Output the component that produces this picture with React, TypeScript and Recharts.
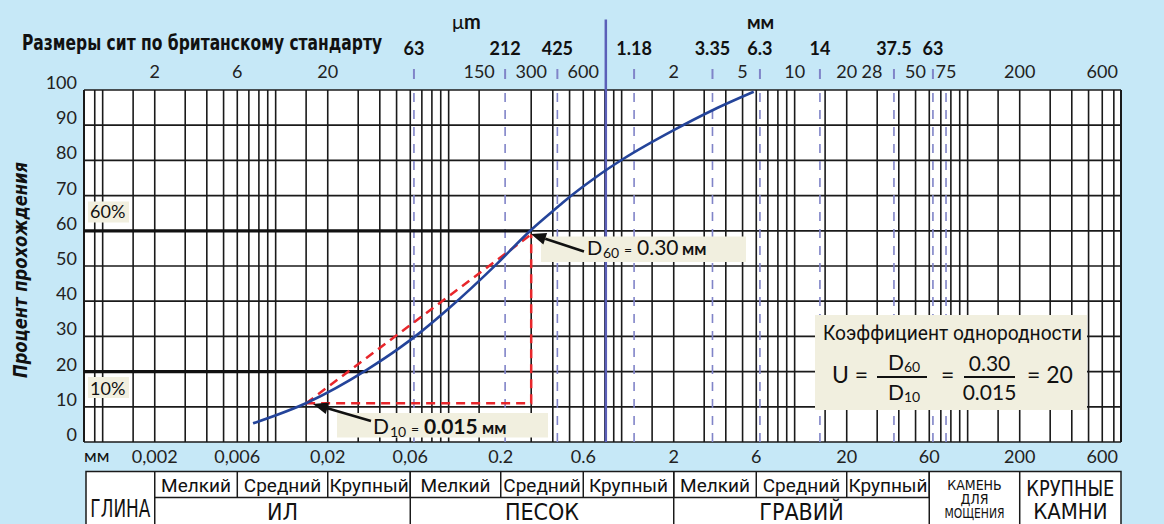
import React from 'react';
import { LineChart, Line, XAxis, YAxis, CartesianGrid, ReferenceLine } from 'recharts';

// grading curve: sieve size (mm) vs percent passing
const sizeMm = [0.0074, 0.0154, 0.0336, 0.0523, 0.068, 0.1, 0.19, 0.29, 0.44, 0.5, 0.69, 0.81, 1.02, 2.0, 3.4, 5.8];
const passing = [5.3, 11.3, 20.5, 26.8, 31.0, 37.9, 50.6, 59.6, 67.3, 69.6, 74.8, 77.2, 80.4, 88.6, 94.4, 99.5];

const d10 = 0.015;
const d60 = 0.3;
const d10Level = 11;
const d60Level = 59;

// BS sieves (bold row on top + dashed lines)
const sieveMm = [0.063, 0.212, 0.425, 1.18, 3.35, 6.3, 14, 37.5, 63];
const sieveLinesMm = [0.063, 0.212, 0.425, 1.18, 3.35, 6.3, 14, 37.5, 63, 75];
const topTicks = [0.002, 0.006, 0.02, 0.15, 0.3, 0.6, 2, 5, 10, 20, 28, 50, 75, 200, 600];
const bottomTicks = [0.002, 0.006, 0.02, 0.06, 0.2, 0.6, 2, 6, 20, 60, 200, 600];
const bottomLabels = ['0,002', '0,006', '0,02', '0,06', '0.2', '0.6', '2', '6', '20', '60', '200', '600'];
const yTicks = [0, 10, 20, 30, 40, 50, 60, 70, 80, 90, 100];
const gridX = [
  0.0009, 0.001, 0.0015, 0.002, 0.003, 0.004, 0.005, 0.006, 0.007, 0.008, 0.009,
  0.01, 0.015, 0.02, 0.03, 0.04, 0.05, 0.06, 0.07, 0.08, 0.09,
  0.1, 0.15, 0.3, 0.4, 0.5, 0.6, 0.7, 0.8, 0.9,
  1, 1.5, 2, 3, 4, 5, 6, 7, 8, 9,
  10, 15, 20, 30, 40, 50, 60, 70, 80, 90,
  100, 150, 200, 300, 400, 500, 600, 700,
];
const umMmDivider = 0.81;
const xMin = 0.00078;
const xMax = 770;

// soil classification table
const mainGroups = [
  { name: 'ИЛ', from: 0.002, to: 0.06 },
  { name: 'ПЕСОК', from: 0.06, to: 2 },
  { name: 'ГРАВИЙ', from: 2, to: 60 },
];
const subBounds = [0.002, 0.006, 0.02, 0.06, 0.2, 0.6, 2, 6, 20, 60];
const subNames = ['Мелкий', 'Средний', 'Крупный'];

const W = 1164;
const H = 524;
const PLOT_L = 84;
const PLOT_R = 1121;
const BG = '#c6e8f7';
const NOTE = '#f1efdf';
const INK = '#1a1a1a';
const GILL = "Lato, 'Open Sans', sans-serif";
const NARROW = "'Liberation Sans Narrow', 'DejaVu Sans Condensed', sans-serif";
const ROBO = "Roboto, 'Liberation Sans', sans-serif";

const sx = (v: number) => PLOT_L + ((PLOT_R - PLOT_L) * Math.log(v / xMin)) / Math.log(xMax / xMin);

const curve = sizeMm.map((x, i) => ({ x, y: passing[i] }));
const redL = [
  { x: d10, y: d10Level },
  { x: d60, y: d10Level },
  { x: d60, y: d60Level },
];
const redDiag = [
  { x: d10, y: d10Level },
  { x: d60, y: d60Level },
];

const fmtTop = (v: number) => (v < 1 ? String(Math.round(v * 1000)) : String(v));

const TopTick = (props: any) => {
  const { x, payload } = props;
  const v = payload.value;
  if (sieveMm.includes(v)) {
    return (
      <g>
        <text x={x} y={55} textAnchor="middle" fontFamily={GILL} fontWeight={700} fontSize={18} fill="#111">
          {fmtTop(v)}
        </text>
        <line x1={x} x2={x} y1={69} y2={79} stroke="#8084c8" strokeWidth={2} />
      </g>
    );
  }
  return (
    <text x={x} y={78} textAnchor="middle" fontFamily={GILL} fontSize={18} fill="#222">
      {fmtTop(v)}
    </text>
  );
};

const BottomTick = (props: any) => {
  const { x, payload } = props;
  const i = bottomTicks.indexOf(payload.value);
  return (
    <text x={x} y={463} textAnchor="middle" fontFamily={GILL} fontSize={18} fill="#222">
      {bottomLabels[i]}
    </text>
  );
};

const LeftTick = (props: any) => (
  <text x={77} y={props.y - 1} textAnchor="end" fontFamily={GILL} fontSize={18} fill="#222">
    {props.payload.value}
  </text>
);

const RightTick = (props: any) => (
  <text x={1129} y={props.y - 1} textAnchor="start" fontFamily={GILL} fontSize={18} fill="#222">
    {props.payload.value}
  </text>
);

const Arrow = ({ x1, y1, x2, y2 }: { x1: number; y1: number; y2: number; x2: number }) => {
  const a = Math.atan2(y2 - y1, x2 - x1);
  const len = 15;
  const half = 6;
  const bx = x2 - len * Math.cos(a);
  const by = y2 - len * Math.sin(a);
  const px = -Math.sin(a) * half;
  const py = Math.cos(a) * half;
  return (
    <g>
      <line x1={x1} y1={y1} x2={bx} y2={by} stroke="#111" strokeWidth={2.5} />
      <polygon points={`${x2},${y2} ${bx + px},${by + py} ${bx - px},${by - py}`} fill="#111" />
    </g>
  );
};

const Table = () => {
  const top = 471.5;
  const mid = 497.5;
  const bottom = 540;
  const left = 86;
  const right = PLOT_R;
  const cells: React.ReactNode[] = [];
  for (let i = 0; i < subBounds.length - 1; i++) {
    const a = sx(subBounds[i]);
    const b = sx(subBounds[i + 1]);
    cells.push(<line key={`s${i}`} x1={b} x2={b} y1={top} y2={mid} stroke={INK} strokeWidth={1.5} />);
    cells.push(
      <text key={`t${i}`} x={(a + b) / 2} y={492} textAnchor="middle" fontFamily={ROBO} fontSize={19} fill="#111">
        {subNames[i % 3]}
      </text>
    );
  }
  mainGroups.forEach((g, i) => {
    const a = sx(g.from);
    const b = sx(g.to);
    cells.push(<line key={`g${i}`} x1={a} x2={a} y1={top} y2={bottom} stroke={INK} strokeWidth={1.5} />);
    cells.push(
      <text key={`gt${i}`} x={(a + b) / 2} y={520} textAnchor="middle" fontFamily={NARROW} fontSize={23} fill="#111">
        {g.name}
      </text>
    );
  });
  const stoneA = sx(60);
  const stoneB = sx(200);
  return (
    <g>
      <rect x={left} y={top} width={right - left} height={bottom - top} fill="#fff" stroke={INK} strokeWidth={1.5} />
      <line x1={sx(0.002)} x2={stoneA} y1={mid} y2={mid} stroke={INK} strokeWidth={1.5} />
      {cells}
      <line x1={stoneA} x2={stoneA} y1={top} y2={bottom} stroke={INK} strokeWidth={1.5} />
      <line x1={stoneB} x2={stoneB} y1={top} y2={bottom} stroke={INK} strokeWidth={1.5} />
      <text x={(left + sx(0.002)) / 2} y={517} textAnchor="middle" fontFamily={NARROW} fontSize={24} fill="#111" textLength={60} lengthAdjust="spacingAndGlyphs">
        ГЛИНА
      </text>
      <g fontFamily={NARROW} fontSize={14} fill="#111" textAnchor="middle">
        <text x={(stoneA + stoneB) / 2} y={490}>КАМЕНЬ</text>
        <text x={(stoneA + stoneB) / 2} y={504}>ДЛЯ</text>
        <text x={(stoneA + stoneB) / 2} y={518} textLength={60} lengthAdjust="spacingAndGlyphs">МОЩЕНИЯ</text>
      </g>
      <g fontFamily={NARROW} fontSize={22} fill="#111" textAnchor="middle">
        <text x={(stoneB + right) / 2} y={496} textLength={88} lengthAdjust="spacingAndGlyphs">КРУПНЫЕ</text>
        <text x={(stoneB + right) / 2} y={519}>КАМНИ</text>
      </g>
    </g>
  );
};

const App: React.FC = () => {
  return (
    <div style={{ position: 'absolute', left: 0, top: 0, width: W, height: H, background: BG, overflow: 'hidden' }}>
      <LineChart width={W} height={470} margin={{ top: 0, right: 0, bottom: 0, left: 0 }}>
        <CartesianGrid xAxisId="bottom" yAxisId="left" vertical={false} fill="#fff" stroke={INK} strokeWidth={1.7} />
        <XAxis
          xAxisId="top"
          orientation="top"
          dataKey="x"
          type="number"
          scale="log"
          domain={[xMin, xMax]}
          allowDataOverflow
          ticks={[...topTicks, ...sieveMm].sort((a, b) => a - b)}
          interval={0}
          height={90}
          axisLine={false}
          tickLine={false}
          tick={TopTick}
        />
        <XAxis
          xAxisId="bottom"
          orientation="bottom"
          dataKey="x"
          type="number"
          scale="log"
          domain={[xMin, xMax]}
          allowDataOverflow
          ticks={bottomTicks}
          interval={0}
          height={28}
          axisLine={false}
          tickLine={false}
          tick={BottomTick}
        />
        <YAxis yAxisId="left" orientation="left" type="number" domain={[0, 100]} ticks={yTicks} interval={0} width={84} axisLine={false} tickLine={false} tick={LeftTick} />
        <YAxis yAxisId="right" orientation="right" type="number" domain={[0, 100]} ticks={yTicks} interval={0} width={43} axisLine={false} tickLine={false} tick={RightTick} />

        {gridX.map((v) => (
          <ReferenceLine key={`gx${v}`} xAxisId="bottom" yAxisId="left" x={v} stroke={INK} strokeWidth={1.6} />
        ))}
        <ReferenceLine xAxisId="bottom" yAxisId="left" x={xMin} stroke={INK} strokeWidth={2} />
        <ReferenceLine xAxisId="bottom" yAxisId="left" x={xMax} stroke={INK} strokeWidth={2} />
        {sieveLinesMm.map((v) => (
          <ReferenceLine key={`sv${v}`} xAxisId="bottom" yAxisId="left" x={v} stroke="#8084c8" strokeWidth={1.6} strokeDasharray="9 8" />
        ))}
        <ReferenceLine
          xAxisId="bottom"
          yAxisId="left"
          segment={[{ x: xMin, y: 60 }, { x: d60, y: 60 }]}
          stroke="#111"
          strokeWidth={3.2}
        />
        <ReferenceLine
          xAxisId="bottom"
          yAxisId="left"
          segment={[{ x: xMin, y: 20 }, { x: 0.034, y: 20 }]}
          stroke="#111"
          strokeWidth={3.2}
        />
        <ReferenceLine
          xAxisId="bottom"
          yAxisId="left"
          segment={[{ x: umMmDivider, y: 0 }, { x: umMmDivider, y: 120 }]}
          ifOverflow="visible"
          stroke="#5b5fb8"
          strokeWidth={2.5}
        />

        <Line xAxisId="bottom" yAxisId="left" data={redL} dataKey="y" type="linear" stroke="#e8262b" strokeWidth={2.5} strokeDasharray="9 6" dot={false} isAnimationActive={false} />
        <Line xAxisId="bottom" yAxisId="left" data={redDiag} dataKey="y" type="linear" stroke="#e8262b" strokeWidth={2.5} strokeDasharray="9 6" dot={false} isAnimationActive={false} />
        <Line xAxisId="bottom" yAxisId="left" data={curve} dataKey="y" type="monotone" stroke="#24449a" strokeWidth={2.6} dot={false} isAnimationActive={false} />
      </LineChart>

      <svg width={W} height={H} style={{ position: 'absolute', left: 0, top: 0, pointerEvents: 'none' }}>
        <text x={22} y={50} fontFamily={NARROW} fontWeight={700} fontSize={22} fill="#111" textLength={360} lengthAdjust="spacingAndGlyphs">
          Размеры сит по британскому стандарту
        </text>
        <text x={452} y={29} fontFamily={GILL} fontSize={20} fill="#111">
          μ<tspan fontWeight={700}>m</tspan>
        </text>
        <text x={747} y={29} fontFamily={GILL} fontWeight={700} fontSize={19} fill="#111">мм</text>
        <text x={84} y={462} fontFamily={GILL} fontSize={18} fill="#111">мм</text>
        <text
          transform="translate(27,270) rotate(-90)"
          textAnchor="middle"
          fontFamily={NARROW}
          fontWeight={700}
          fontStyle="italic"
          fontSize={20}
          fill="#111"
          textLength={216}
          lengthAdjust="spacingAndGlyphs"
        >
          Процент прохождения
        </text>

        {/* level labels */}
        <rect x={88} y={201.5} width={41} height={21} fill={NOTE} />
        <text x={90} y={218} fontFamily={GILL} fontSize={18} fill="#111">60%</text>
        <rect x={88} y={377} width={41} height={21} fill={NOTE} />
        <text x={90} y={395} fontFamily={GILL} fontSize={18} fill="#111">10%</text>

        {/* D60 note */}
        <rect x={541} y={236.5} width={205} height={25.5} fill={NOTE} />
        <Arrow x1={584} y1={251.5} x2={531} y2={234} />
        <text fontFamily={GILL} fill="#111">
          <tspan x={587} y={255} fontSize={20}>D</tspan>
          <tspan x={603} y={258} fontSize={14}>60</tspan>
          <tspan x={624} y={255} fontSize={14}>=</tspan>
          <tspan x={637} y={255} fontSize={21}>0.30</tspan>
          <tspan x={682} y={255} fontSize={17} fontWeight={700}>мм</tspan>
        </text>

        {/* D10 note */}
        <rect x={337} y={413} width={211} height={24.5} fill={NOTE} />
        <Arrow x1={371} y1={421} x2={313} y2={404} />
        <text fontFamily={GILL} fill="#111">
          <tspan x={373} y={434} fontSize={21}>D</tspan>
          <tspan x={390} y={437} fontSize={14}>10</tspan>
          <tspan x={411} y={434} fontSize={14}>=</tspan>
          <tspan x={424} y={434} fontSize={21} fontWeight={700}>0.015</tspan>
          <tspan x={482} y={434} fontSize={17} fontWeight={700}>мм</tspan>
        </text>

        {/* uniformity coefficient */}
        <rect x={815} y={315} width={272} height={95} fill={NOTE} />
        <text x={823} y={340} fontFamily={ROBO} fontSize={20} fill="#111" textLength={259} lengthAdjust="spacingAndGlyphs">
          Коэффициент однородности
        </text>
        <g fontFamily={GILL} fill="#111">
          <text x={832} y={383} fontSize={23}>U =</text>
          <text fontSize={21}>
            <tspan x={888} y={370}>D</tspan>
            <tspan x={904} y={372} fontSize={14}>60</tspan>
          </text>
          <line x1={877} x2={927} y1={377} y2={377} stroke="#111" strokeWidth={2} />
          <text fontSize={21}>
            <tspan x={888} y={400}>D</tspan>
            <tspan x={904} y={402} fontSize={14}>10</tspan>
          </text>
          <text x={941} y={383} fontSize={23}>=</text>
          <text x={989.5} y={371} fontSize={21} textAnchor="middle">0.30</text>
          <line x1={964} x2={1015} y1={377} y2={377} stroke="#111" strokeWidth={2} />
          <text x={989.5} y={400} fontSize={21} textAnchor="middle">0.015</text>
          <text x={1027} y={383} fontSize={23}>= 20</text>
        </g>

        <Table />
      </svg>
    </div>
  );
};

export default App;
